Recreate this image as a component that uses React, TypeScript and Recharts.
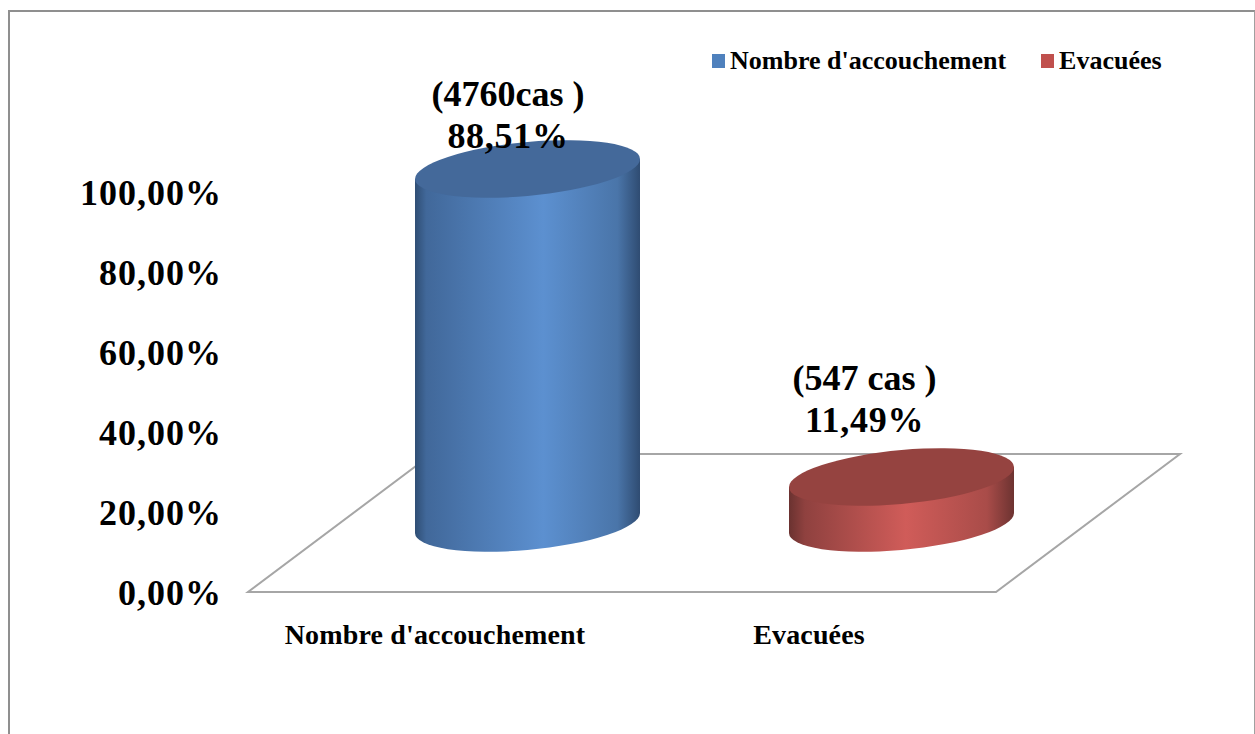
import React from "react";
import {
  Bar,
  BarChart,
  LabelList,
  Legend,
  ReferenceArea,
  XAxis,
  YAxis,
} from "recharts";

const categories = ["Nombre d'accouchement", "Evacuées"];
const accouchements = [88.51, null];
const evacuees = [null, 11.49];
const caseLabels = ["(4760cas )", "(547 cas )"];
const yTicks = [0, 20, 40, 60, 80, 100];

const data = categories.map((name, i) => ({
  name,
  accouchements: accouchements[i],
  evacuees: evacuees[i],
}));

const FONT = "'Liberation Serif', serif";

// the cylinders stand halfway back on the floor
const FLOOR_DX = 184;
const FLOOR_DY = 138;
const SHIFT_X = FLOOR_DX / 2;
const SHIFT_Y = FLOOR_DY / 2;

// hand placed value labels, one per category
const labelNudge = [
  { dx: 72.5, dy: -90 },
  { dx: 55, dy: -114 },
];

const percent = (v: number) => `${v.toFixed(2).replace(".", ",")}%`;

const Floor = ({ x, y, width, height }: any) => {
  const bottom = y + height;
  const right = x + width;
  return (
    <polygon
      points={`${x},${bottom} ${right},${bottom} ${right + FLOOR_DX},${y} ${x + FLOOR_DX},${y}`}
      fill="#ffffff"
      stroke="#a6a6a6"
      strokeWidth={2}
    />
  );
};

const makeCylinder =
  (gradient: string, topColor: string) =>
  ({ x, y, width, height }: any) => {
    if (!height) return null;
    const rx = width / 2;
    const ry = 27;
    const cx = x + rx + SHIFT_X;
    const top = y - SHIFT_Y;
    const base = top + height;
    return (
      <g transform={`matrix(1 -0.089 0 1 ${cx} 0)`}>
        <path
          d={`M ${-rx} ${top} L ${-rx} ${base} A ${rx} ${ry} 0 0 0 ${rx} ${base} L ${rx} ${top} Z`}
          fill={`url(#${gradient})`}
        />
        <ellipse cx={0} cy={top} rx={rx} ry={ry} fill={topColor} />
      </g>
    );
  };

const BlueCylinder = makeCylinder("blueBody", "#44699a");
const RedCylinder = makeCylinder("redBody", "#954340");

const ValueLabel = ({ x, y, value, index }: any) => {
  if (value == null) return null;
  const nudge = labelNudge[index];
  const cx = x + 112.5 + nudge.dx;
  const baseline = y + nudge.dy;
  return (
    <text
      textAnchor="middle"
      fontFamily={FONT}
      fontWeight="bold"
      fontSize={36}
      fill="#000000"
    >
      <tspan x={cx} y={baseline - 42}>
        {caseLabels[index]}
      </tspan>
      <tspan x={cx} y={baseline} letterSpacing={0.7}>
        {percent(value)}
      </tspan>
    </text>
  );
};

const LegendRow = ({ payload }: any) => (
  <div style={{ display: "flex", alignItems: "center", fontFamily: FONT }}>
    {(payload || []).map((item: any) => (
      <div
        key={item.value}
        style={{ display: "flex", alignItems: "center", marginRight: 35 }}
      >
        <span
          style={{
            width: 13,
            height: 14,
            background: item.color,
            marginRight: 5,
          }}
        />
        <span
          style={{
            fontSize: 26,
            fontWeight: "bold",
            color: "#000000",
            whiteSpace: "nowrap",
          }}
        >
          {item.value}
        </span>
      </div>
    ))}
  </div>
);

export default function App() {
  return (
    <div
      style={{
        position: "absolute",
        left: 0,
        top: 0,
        width: 1255,
        height: 734,
        overflow: "hidden",
        background: "#ffffff",
      }}
    >
      <div
        style={{
          position: "absolute",
          left: 8,
          top: 10,
          width: 1244,
          height: 760,
          borderLeft: "2.5px solid #8f8f8f",
          borderTop: "2.5px solid #8f8f8f",
          borderRight: "1.5px solid #a0a0a0",
        }}
      />
      <BarChart
        style={{ position: "absolute", left: 0, top: 0 }}
        width={1255}
        height={734}
        data={data}
        barSize={225}
        margin={{ top: 192, right: 259, bottom: 82, left: 0 }}
      >
        <defs>
          <linearGradient id="blueBody" x1="0" y1="0" x2="1" y2="0">
            <stop offset="0" stopColor="#2f4e74" />
            <stop offset="0.05" stopColor="#41689a" />
            <stop offset="0.57" stopColor="#5c90d0" />
            <stop offset="0.9" stopColor="#4a75a9" />
            <stop offset="1" stopColor="#2f4c72" />
          </linearGradient>
          <linearGradient id="redBody" x1="0" y1="0" x2="1" y2="0">
            <stop offset="0" stopColor="#6a3230" />
            <stop offset="0.07" stopColor="#8f413f" />
            <stop offset="0.52" stopColor="#d05c59" />
            <stop offset="0.88" stopColor="#a94c49" />
            <stop offset="1" stopColor="#6d3331" />
          </linearGradient>
        </defs>
        <XAxis
          dataKey="name"
          axisLine={false}
          tickLine={false}
          height={60}
          interval={0}
          tickMargin={26}
          tick={{
            fontFamily: FONT,
            fontWeight: "bold",
            fontSize: 28,
            letterSpacing: 0.15,
            fill: "#000000",
          }}
        />
        <YAxis
          domain={[0, 100]}
          ticks={yTicks}
          width={248}
          axisLine={false}
          tickLine={false}
          tickMargin={20}
          tickFormatter={percent}
          tick={{
            fontFamily: FONT,
            fontWeight: "bold",
            fontSize: 36,
            letterSpacing: 1,
            fill: "#000000",
          }}
        />
        <ReferenceArea y1={0} y2={34.5} shape={Floor} />
        <Legend
          align="center"
          verticalAlign="middle"
          layout="horizontal"
          itemSorter="dataKey"
          content={LegendRow}
          wrapperStyle={{ left: 712, top: 46, width: 520 }}
        />
        <Bar
          dataKey="accouchements"
          name="Nombre d'accouchement"
          stackId="cas"
          fill="#4f81bd"
          shape={BlueCylinder}
          isAnimationActive={false}
        >
          <LabelList dataKey="accouchements" content={ValueLabel} />
        </Bar>
        <Bar
          dataKey="evacuees"
          name="Evacuées"
          stackId="cas"
          fill="#c0504d"
          shape={RedCylinder}
          isAnimationActive={false}
        >
          <LabelList dataKey="evacuees" content={ValueLabel} />
        </Bar>
      </BarChart>
    </div>
  );
}
